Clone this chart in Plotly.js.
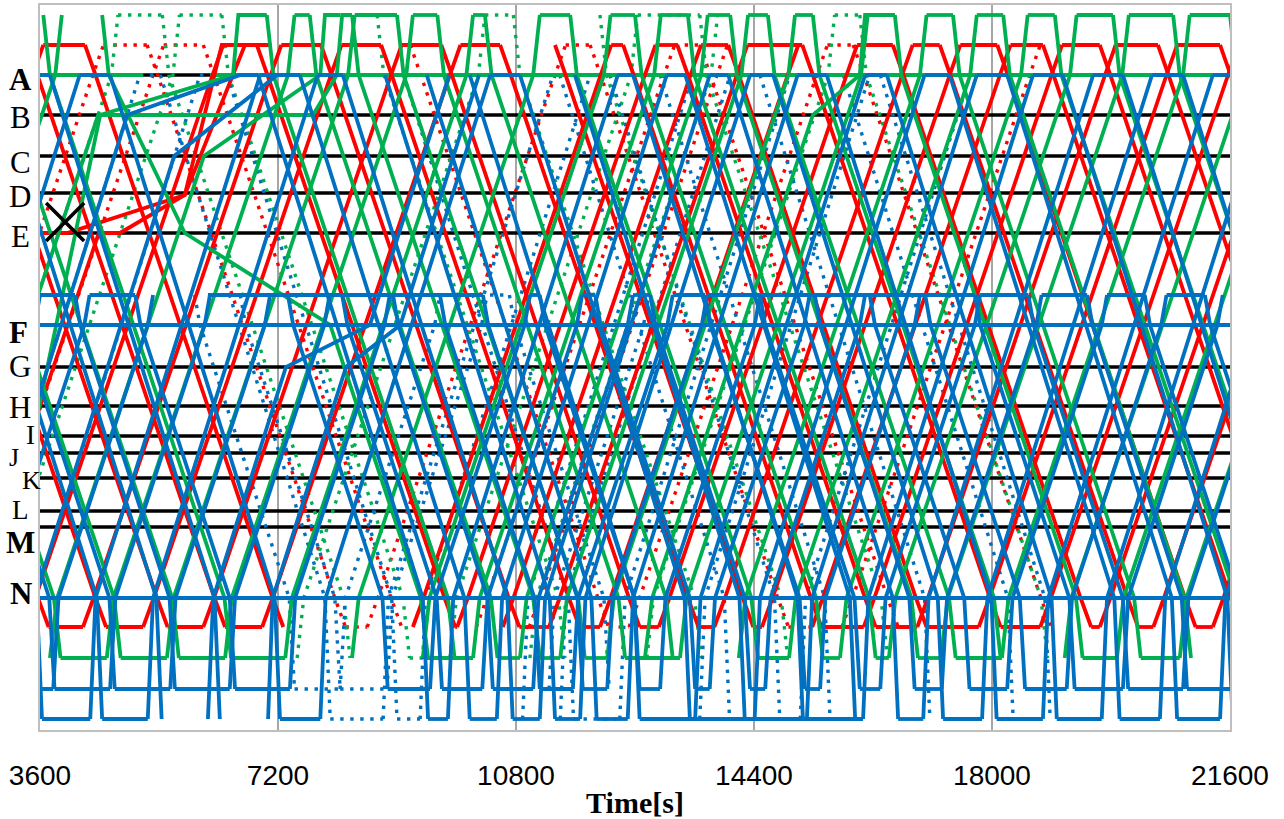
<!DOCTYPE html>
<html><head><meta charset="utf-8">
<script src="https://cdn.plot.ly/plotly-3.0.1.min.js"></script>
<style>html,body{margin:0;padding:0;background:#fff;} #chart{width:1284px;height:819px;}</style>
</head><body><div id="chart"></div>
<script>
// ---------------- data ----------------
const stationNames = ['A','B','C','D','E','F','G','H','I','J','K','L','M','N'];
const stationPos   = [75,115,156,193,233,325,367,406,436,453,478,511,527,598];
const boldStations = ['A','F','M','N'];
const tickVals = [3600,7200,10800,14400,18000,21600];
const tickText = ['3600','7200','10800','14400','18000','21600'];

// route profiles (down direction): positions and running time from origin [s]
const redProfPos   = [45,75,598,627];   const redProfT   = [0,160,2840,3000];
const greenProfPos = [15,75,598,658];   const greenProfT = [0,100,2740,2840];
const blue1ProfPos = [75,598,719];      const blue1ProfT = [0,2490,2570];
const blue2ProfPos = [295,325,598,689]; const blue2ProfT = [0,80,1430,1510];

// timetables: departure times [s] from the upper (Down) / lower (Up) terminal
const redDownSolid = [730,1600,2530,3400,4280,6880,7850,8760,9670,10560,11390,12420,13240,14010,15130,16500,17210,18080,18770,19630,20510,21450];
const redUpSolid   = [650,3370,4250,5160,6070,6960,9240,9910,10600,11300,12070,12960,13800,14520,15280,16060,16870,17800,18730,19630,20440,21340];
const redDownDot   = [5220,6070,9200,11920,13580,15900];
const redUpDot     = [1560,2470,8550,10200,11000,12510,15730];
const redSpecial = [
  [[1560,627],[3590,233],[4010,233],[5790,195],[6350,45],[6880,45]],
  [[2470,627],[4490,233],[4810,233],[5790,195],[6700,45],[7100,45]]
];

const greenDownSolid = [1070,1980,2860,3650,7030,7680,8320,9000,9610,10330,11620,12600,13400,14040,14610,15290,16530,17410,18170,18950,19830,20740,21600];
const greenUpSolid   = [1090,4610,5520,6400,7310,8320,9390,10150,10860,11470,12180,13280,14170,14930,15700,16440,17230,18150,19100,19890,20840];
const greenDownDot   = [5450,6350,8700,10760,12070,13580,16000];
const greenUpDot     = [1940,2870,7490,9800,11010,12780];
const greenSpecial = [
  [[1940,658],[2040,598],[4480,115],[7730,115],[8090,75],[8170,15],[8320,15]],
  [[2870,658],[2980,598],[4510,115],[6520,75],[6600,15],[7030,15]],
  [[3750,658],[3860,598],[6080,156],[7840,75],[7910,15],[8140,15]],
  [[12750,658],[12860,598],[15290,115],[16000,75],[16080,15],[16530,15]],
  [[4540,15],[4640,75],[5790,233],[7990,325],[9360,598],[9470,658],[10150,658]]
];

const blue1DownSolid = [1060,1970,2870,3750,4660,6900,7530,8180,8820,9450,10100,10860,11690,12570,13360,14010,14690,15500,16410,17360,18230,19070,19980,20890,21800];
const blue1UpSolid   = [730,1630,4360,5230,7840,9770,10510,11160,11770,12490,13510,14410,15200,16050,16960,17850,18770,19660,20540,21450];
const blue1DownDot   = [5420,6430,9100,11460,12220,12980,14490,15750,16310];
const blue1UpDot     = [2540,3450,8790,9350,10900,11470,12370,13580,15100];
const blue1Special = [
  [[2540,719],[2620,598],[4920,115],[6630,75],[6900,75]],
  [[3450,719],[3520,598],[5630,156],[7190,75],[7530,75]],
  [[6140,719],[6220,598],[7320,367],[8590,325],[9790,75]],
  [[7050,719],[7120,598],[8230,367],[9050,325],[10240,75]]
];

const blue2DownSolid = [1410,2310,3220,4130,5040,7350,8170,8940,9650,10300,11160,12000,12830,13660,14490,15320,16150,16990,17740,18550,19440,20310,21220];
const blue2UpSolid   = [1180,2090,2840,3800,4660,5570,6470,7380,9500,10290,11060,11660,12180,12980,13730,14570,15400,16310,17240,18230,19130,19980,20890,21750];
const blue2DownDot   = [5940,6630,10700];
const blue2UpDot     = [8140,8850,11300];
const blue2Special = [ [[6140,295],[10300,295]] ];

// coloured terminal platform lines [start,end]
const greenAPeriods = [[3600,5160],[6170,21600]];
const blueFPeriods  = [[3600,21600]];
const blueNPeriods  = [[3600,21600]];
const incident = {t: 3980, pos: 222};

// ---------------- build ----------------
const RED='#FF0000', GREEN='#00B050', BLUE='#0070C0';

function link(arrs, deps, pos, maxDwell, xs, ys){
  const used = new Set();
  [...deps].sort((a,b)=>a-b).forEach(d=>{
    let best=-1;
    arrs.forEach((a,i)=>{ if(!used.has(i) && a<=d && d-a<=maxDwell && (best<0 || a<arrs[best])) best=i; });
    if(best>=0){ used.add(best); xs.push(arrs[best], d, null); ys.push(pos,pos,null); }
  });
}
function buildRoute(profPos, profT, downDeps, upDeps, maxDwell){
  const xs=[], ys=[];
  const n=profPos.length, total=profT[n-1];
  downDeps.forEach(d=>{ for(let i=0;i<n;i++){xs.push(d+profT[i]); ys.push(profPos[i]);} xs.push(null); ys.push(null); });
  upDeps.forEach(u=>{ for(let i=n-1;i>=0;i--){xs.push(u+total-profT[i]); ys.push(profPos[i]);} xs.push(null); ys.push(null); });
  link(downDeps.map(d=>d+total), upDeps, profPos[n-1], maxDwell, xs, ys);
  link(upDeps.map(u=>u+total), downDeps, profPos[0], maxDwell, xs, ys);
  return {xs, ys};
}
function addSpecial(list, r){
  list.forEach(p=>{ p.forEach(q=>{r.xs.push(q[0]); r.ys.push(q[1]);}); r.xs.push(null); r.ys.push(null); });
  return r;
}
function merge(a,b){ return {xs:a.xs.concat(b.xs), ys:a.ys.concat(b.ys)}; }
function periods(list,pos){ const xs=[],ys=[]; list.forEach(p=>{xs.push(p[0],p[1],null); ys.push(pos,pos,null);}); return {xs,ys}; }

const LW=3.8;
function tr(r,color,dot){
  return {type:'scatter',mode:'lines',x:r.xs,y:r.ys,hoverinfo:'skip',showlegend:false,
    line:{color:color,width:dot?3.4:LW,dash:dot?'3.4px,6.6px':'solid'}};
}

const traces=[];
// black station lines
const st={xs:[],ys:[]};
stationPos.forEach(p=>{st.xs.push(3600,21600,null); st.ys.push(p,p,null);});
traces.push({type:'scatter',mode:'lines',x:st.xs,y:st.ys,hoverinfo:'skip',showlegend:false,line:{color:'#000',width:3.6}});

// dotted (planned) trips
traces.push(tr(buildRoute(redProfPos,redProfT,redDownDot,redUpDot,1100),RED,true));
traces.push(tr(buildRoute(greenProfPos,greenProfT,greenDownDot,greenUpDot,1100),GREEN,true));
traces.push(tr(merge(buildRoute(blue1ProfPos,blue1ProfT,blue1DownDot,blue1UpDot,1000),
                     buildRoute(blue2ProfPos,blue2ProfT,blue2DownDot,blue2UpDot,1300)),BLUE,true));
// green platform line at A
traces.push(tr(periods(greenAPeriods,stationPos[0]),GREEN,false));
// solid trips
traces.push(tr(addSpecial(redSpecial,buildRoute(redProfPos,redProfT,redDownSolid,redUpSolid,1100)),RED,false));
traces.push(tr(addSpecial(greenSpecial,buildRoute(greenProfPos,greenProfT,greenDownSolid,greenUpSolid,900)),GREEN,false));
traces.push(tr(addSpecial(blue1Special,buildRoute(blue1ProfPos,blue1ProfT,blue1DownSolid,blue1UpSolid,1000)),BLUE,false));
traces.push(tr(addSpecial(blue2Special,buildRoute(blue2ProfPos,blue2ProfT,blue2DownSolid,blue2UpSolid,1300)),BLUE,false));
// blue platform lines at F and N
traces.push(tr(merge(periods(blueFPeriods,stationPos[5]),periods(blueNPeriods,stationPos[13])),BLUE,false));
// incident marker
traces.push({type:'scatter',mode:'markers',x:[incident.t],y:[incident.pos],hoverinfo:'skip',showlegend:false,
  marker:{symbol:'x-thin',size:38,line:{color:'#000',width:3.6}}});

// station labels
const labelShift = {A:[0,-4],B:[0,-2],C:[0,-6],D:[0,-3],E:[0,-3],F:[-2,-7],G:[0,1],H:[0,-1],I:[10,1],J:[-6,-4],K:[11,-2],L:[0,1],M:[0,-15],N:[1,5]};
const labelSize  = {I:27,J:26,K:26,L:27};
const annotations = stationNames.map((s,i)=>({
  xref:'paper', yref:'y', x:-20/1190, y:stationPos[i], xanchor:'center', yanchor:'middle',
  xshift:labelShift[s][0], yshift:labelShift[s][1], showarrow:false,
  text: boldStations.includes(s)?'<b>'+s+'</b>':s,
  font:{family:'Liberation Serif, Times New Roman, serif',size:labelSize[s]||31,color:'#000'}
}));

const layout = {
  width:1284,height:819,margin:{l:40,r:54,t:5,b:89},
  paper_bgcolor:'#fff',plot_bgcolor:'#fff',
  xaxis:{range:[3600,21600],tickvals:tickVals,ticktext:tickText,ticks:'',showgrid:true,gridcolor:'#A6A6A6',gridwidth:1.5,
    zeroline:false,showline:true,mirror:true,linecolor:'#BFBFBF',linewidth:2,ticklabelstandoff:19,
    tickfont:{family:'Liberation Sans, Arial, sans-serif',size:28,color:'#000'},
    title:{text:'<b>Time[s]</b>',standoff:10,font:{family:'Liberation Serif, Times New Roman, serif',size:30,color:'#000'}}},
  yaxis:{range:[730,5],showticklabels:false,ticks:'',showgrid:false,zeroline:false,showline:true,mirror:true,linecolor:'#BFBFBF',linewidth:2},
  annotations:annotations
};
Plotly.newPlot('chart',traces,layout,{displayModeBar:false,staticPlot:true});
</script></body></html>
